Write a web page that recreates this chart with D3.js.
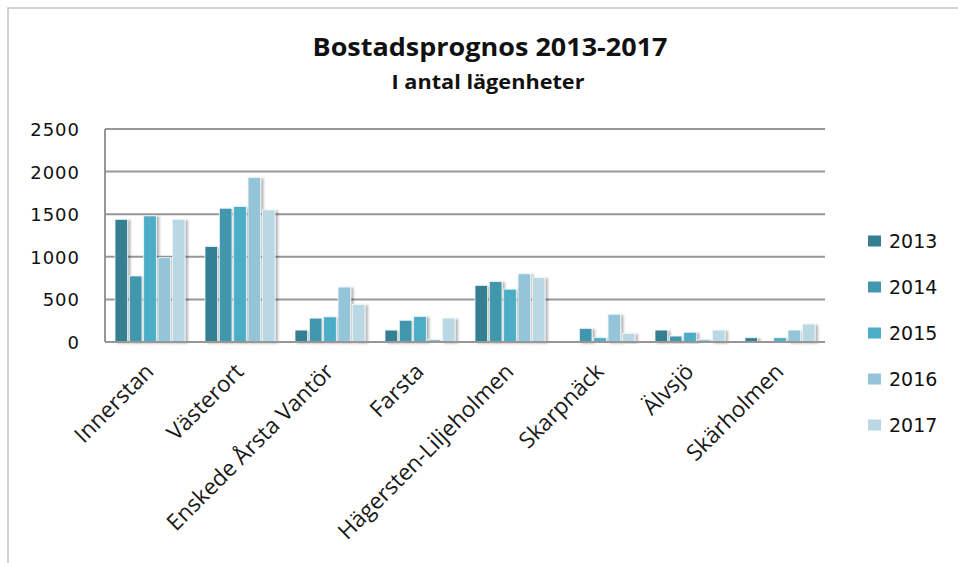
<!DOCTYPE html>
<html>
<head>
<meta charset="utf-8">
<script src="https://cdn.jsdelivr.net/npm/d3@7"></script>
<style>
  body { margin: 0; background: #fff; }
</style>
</head>
<body>
<div id="chart"></div>
<script>
// Data
const categories = ["Innerstan", "Västerort", "Enskede Årsta Vantör", "Farsta",
  "Hägersten-Liljeholmen", "Skarpnäck", "Älvsjö", "Skärholmen"];
const years = ["2013", "2014", "2015", "2016", "2017"];
const v2013 = [1440, 1120, 140, 140, 665, 0, 140, 50];
const v2014 = [775, 1570, 280, 255, 710, 160, 70, 0];
const v2015 = [1480, 1590, 295, 300, 620, 50, 115, 50];
const v2016 = [990, 1930, 645, 30, 800, 325, 30, 140];
const v2017 = [1440, 1550, 440, 280, 755, 100, 140, 210];
const yTicks = [0, 500, 1000, 1500, 2000, 2500];
const colors = ["#367f93", "#4197ae", "#4badc6", "#93c4d7", "#bad8e4"];

const series = [v2013, v2014, v2015, v2016, v2017];

const W = 958, H = 563;
const svg = d3.select("#chart").append("svg")
  .attr("width", W).attr("height", H);

// drop shadow for bars
const defs = svg.append("defs");
defs.append("filter").attr("id", "shadow")
  .attr("x", "-30%").attr("y", "-10%").attr("width", "180%").attr("height", "130%")
  .append("feDropShadow")
  .attr("dx", 2.5).attr("dy", 1).attr("stdDeviation", 1.2)
  .attr("flood-color", "#000").attr("flood-opacity", 0.3);

// outer frame (only top and left visible)
svg.append("path")
  .attr("d", "M8,563 V8 H958")
  .attr("fill", "none").attr("stroke", "#c4c4c4").attr("stroke-width", 1.5);

// Scales
let x = d3.scaleBand()
  .domain(categories)
  .range([105, 825]);

let xYear = d3.scaleBand()
  .domain(years)
  .range([10, 80])
  .paddingInner(0.12);

let y = d3.scaleLinear()
  .domain([0, 2500])
  .range([342, 129]);

// Gridlines
svg.append("g")
  .selectAll("line")
  .data(yTicks)
  .enter()
  .append("line")
  .attr("x1", 105).attr("x2", 825)
  .attr("y1", d => y(d)).attr("y2", d => y(d))
  .attr("stroke", "#979797")
  .attr("stroke-width", 2);

// left axis line
svg.append("line")
  .attr("x1", 105).attr("x2", 105)
  .attr("y1", y(2500)).attr("y2", y(0))
  .attr("stroke", "#979797").attr("stroke-width", 2);

// Y axis labels
let yAxisCall = d3.axisLeft(y).tickValues(yTicks).tickFormat(d3.format("d"))
  .tickSize(0).tickPadding(0);
let yAxis = svg.append("g")
  .attr("transform", "translate(80,0)")
  .call(yAxisCall);
yAxis.select(".domain").remove();
yAxis.selectAll("text")
  .attr("dy", "0.36em")
  .style("font-family", "'DejaVu Sans', Verdana, sans-serif")
  .style("font-size", "18px")
  .style("letter-spacing", "1px")
  .style("fill", "#111");

// Bars
const barGroups = svg.append("g")
  .selectAll("g")
  .data(categories)
  .enter()
  .append("g")
  .attr("transform", d => "translate(" + x(d) + ",0)");

barGroups.selectAll("rect")
  .data((c, i) => series.map((s, k) => ({ year: years[k], value: s[i], k: k })))
  .enter()
  .filter(d => d.value > 0)
  .append("rect")
  .attr("x", d => xYear(d.year))
  .attr("width", xYear.bandwidth())
  .attr("y", d => y(d.value))
  .attr("height", d => y(0) - y(d.value))
  .attr("fill", d => colors[d.k])
  .attr("stroke", "#f2f7f9")
  .attr("stroke-width", 0.8)
  .attr("filter", "url(#shadow)");

// baseline redrawn over bars
svg.append("line")
  .attr("x1", 105).attr("x2", 825)
  .attr("y1", y(0)).attr("y2", y(0))
  .attr("stroke", "#979797").attr("stroke-width", 2);

// X axis labels
svg.append("g")
  .selectAll("text")
  .data(categories)
  .enter()
  .append("text")
  .attr("transform", d => "translate(" + (x(d) + x.bandwidth() / 2 + 5) + ",373) rotate(-45)")
  .style("text-anchor", "end")
  .style("font-family", "'Open Sans', sans-serif")
  .style("font-size", "22.5px")
  .style("fill", "#1a1a1a")
  .text(d => d);

// Title
svg.append("text")
  .attr("x", 490).attr("y", 56)
  .style("text-anchor", "middle")
  .style("font-family", "'Open Sans', sans-serif")
  .style("font-weight", "bold")
  .style("font-size", "25px")
  .attr("textLength", 355)
  .attr("lengthAdjust", "spacingAndGlyphs")
  .style("fill", "#111")
  .text("Bostadsprognos 2013-2017");

svg.append("text")
  .attr("x", 488).attr("y", 89)
  .style("text-anchor", "middle")
  .style("font-family", "'Open Sans', sans-serif")
  .style("font-weight", "bold")
  .style("font-size", "20px")
  .attr("textLength", 193)
  .attr("lengthAdjust", "spacingAndGlyphs")
  .style("fill", "#111")
  .text("I antal lägenheter");

// Legend
const legendY = d3.scalePoint().domain(years).range([241, 425]);
const legend = svg.append("g")
  .selectAll("g")
  .data(years)
  .enter()
  .append("g")
  .attr("transform", d => "translate(868," + legendY(d) + ")");

legend.append("rect")
  .attr("x", 0).attr("y", -5.5)
  .attr("width", 13).attr("height", 11)
  .attr("fill", (d, i) => colors[i]);

legend.append("text")
  .attr("x", 21).attr("y", 0)
  .attr("dy", "0.36em")
  .style("font-family", "'DejaVu Sans', Verdana, sans-serif")
  .style("font-size", "19px")
  .style("fill", "#111")
  .text(d => d);
</script>
</body>
</html>
